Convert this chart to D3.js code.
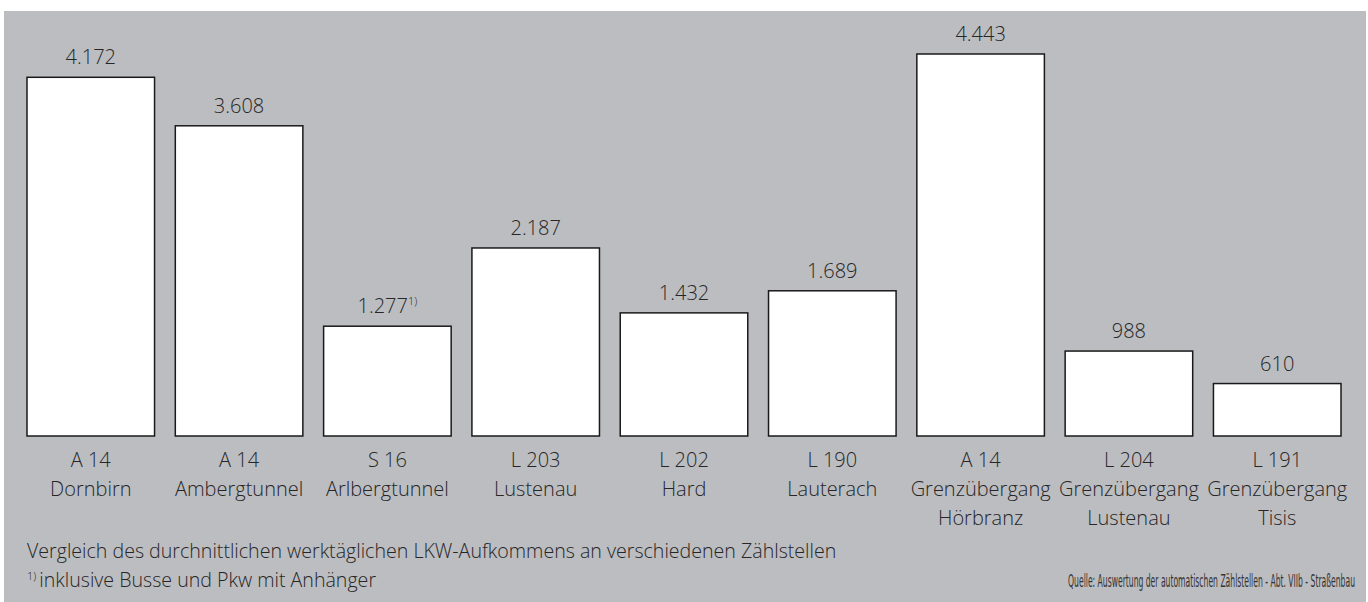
<!DOCTYPE html>
<html>
<head>
<meta charset="utf-8">
<script src="https://cdn.jsdelivr.net/npm/d3@7"></script>
<style>
  body { margin: 0; background: #fff; }
  svg text { font-family: "Open Sans", "DejaVu Sans", sans-serif; fill: #262626; }
  svg text.source { font-family: "Liberation Sans Narrow", "DejaVu Sans Condensed", "Open Sans", sans-serif; fill: #333; }
</style>
</head>
<body>
<div id="chart"></div>
<script>
// Zählstellen (Straße + Ort)
const roads = ['A 14', 'A 14', 'S 16', 'L 203', 'L 202', 'L 190', 'A 14', 'L 204', 'L 191'];
const places = [
  ['Dornbirn'], ['Ambergtunnel'], ['Arlbergtunnel'], ['Lustenau'], ['Hard'],
  ['Lauterach'], ['Grenzübergang', 'Hörbranz'], ['Grenzübergang', 'Lustenau'], ['Grenzübergang', 'Tisis']
];
const lkw = [4172, 3608, 1277, 2187, 1432, 1689, 4443, 988, 610];
const footnoteIdx = [2]; // S 16 with footnote 1)

const W = 1368, H = 602;

const svg = d3.select('#chart')
  .append('svg')
  .attr('width', W)
  .attr('height', H);

// grey panel
svg.append('rect')
  .attr('x', 4).attr('y', 11)
  .attr('width', 1362).attr('height', H - 11)
  .attr('fill', '#bcbdc1');

const xScale = d3.scaleBand()
  .domain(d3.range(lkw.length))
  .range([27, 1341])
  .paddingInner(0.14)
  .paddingOuter(0);

const yScale = d3.scaleLinear()
  .domain([0, 4443])
  .range([436, 54]);

const de = d3.formatLocale({decimal: ',', thousands: '.', grouping: [3], currency: ['', ' €']});
const fmt = de.format(',.0f');

svg.selectAll('rect.bar')
  .data(lkw)
  .enter()
  .append('rect')
  .attr('class', 'bar')
  .attr('x', (d, i) => xScale(i))
  .attr('y', d => yScale(d))
  .attr('width', xScale.bandwidth())
  .attr('height', d => yScale(0) - yScale(d))
  .attr('fill', '#fff')
  .attr('stroke', '#1a1a1a')
  .attr('stroke-width', 1.5);

// value labels
const vals = svg.selectAll('text.val')
  .data(lkw)
  .enter()
  .append('text')
  .attr('class', 'val')
  .attr('x', (d, i) => xScale(i) + xScale.bandwidth() / 2)
  .attr('y', d => yScale(d) - 13)
  .attr('text-anchor', 'middle')
  .style('font-size', '20px')
  .style('font-weight', 300);

vals.append('tspan').text(d => fmt(d));
vals.filter((d, i) => footnoteIdx.includes(i))
  .append('tspan')
  .attr('dy', -8)
  .style('font-size', '11px')
  .text('1)');

// category labels
const cats = svg.selectAll('text.cat')
  .data(lkw)
  .enter()
  .append('text')
  .attr('class', 'cat')
  .attr('x', (d, i) => xScale(i) + xScale.bandwidth() / 2)
  .attr('y', 467)
  .attr('text-anchor', 'middle')
  .style('font-size', '20px')
  .style('font-weight', 300);

cats.each(function(d, i) {
  const t = d3.select(this);
  const x = xScale(i) + xScale.bandwidth() / 2;
  t.append('tspan').attr('x', x).text(roads[i]);
  places[i].forEach(p => {
    t.append('tspan').attr('x', x).attr('dy', 29).text(p);
  });
});

// footer
svg.append('text')
  .attr('x', 27)
  .attr('y', 558)
  .style('font-size', '19.6px')
  .style('font-weight', 300)
  .text('Vergleich des durchnittlichen werktäglichen LKW-Aufkommens an verschiedenen Zählstellen');

const note = svg.append('text')
  .attr('x', 27)
  .attr('y', 587)
  .style('font-size', '19.6px')
  .style('font-weight', 300);
note.append('tspan')
  .attr('dy', -7)
  .style('font-size', '11px')
  .text('1)');
note.append('tspan')
  .attr('dy', 7)
  .attr('dx', 3)
  .text('inklusive Busse und Pkw mit Anhänger');

// source line is set in a very condensed face -> squeeze horizontally
const src = svg.append('text')
  .attr('class', 'source')
  .attr('text-anchor', 'end')
  .style('font-size', '17px')
  .text('Quelle: Auswertung der automatischen Zählstellen - Abt. VIIb - Straßenbau');
const srcW = src.node().getComputedTextLength();
src.attr('transform', `translate(1355,587) scale(${Math.min(1, 287 / srcW)},1)`);
</script>
</body>
</html>
